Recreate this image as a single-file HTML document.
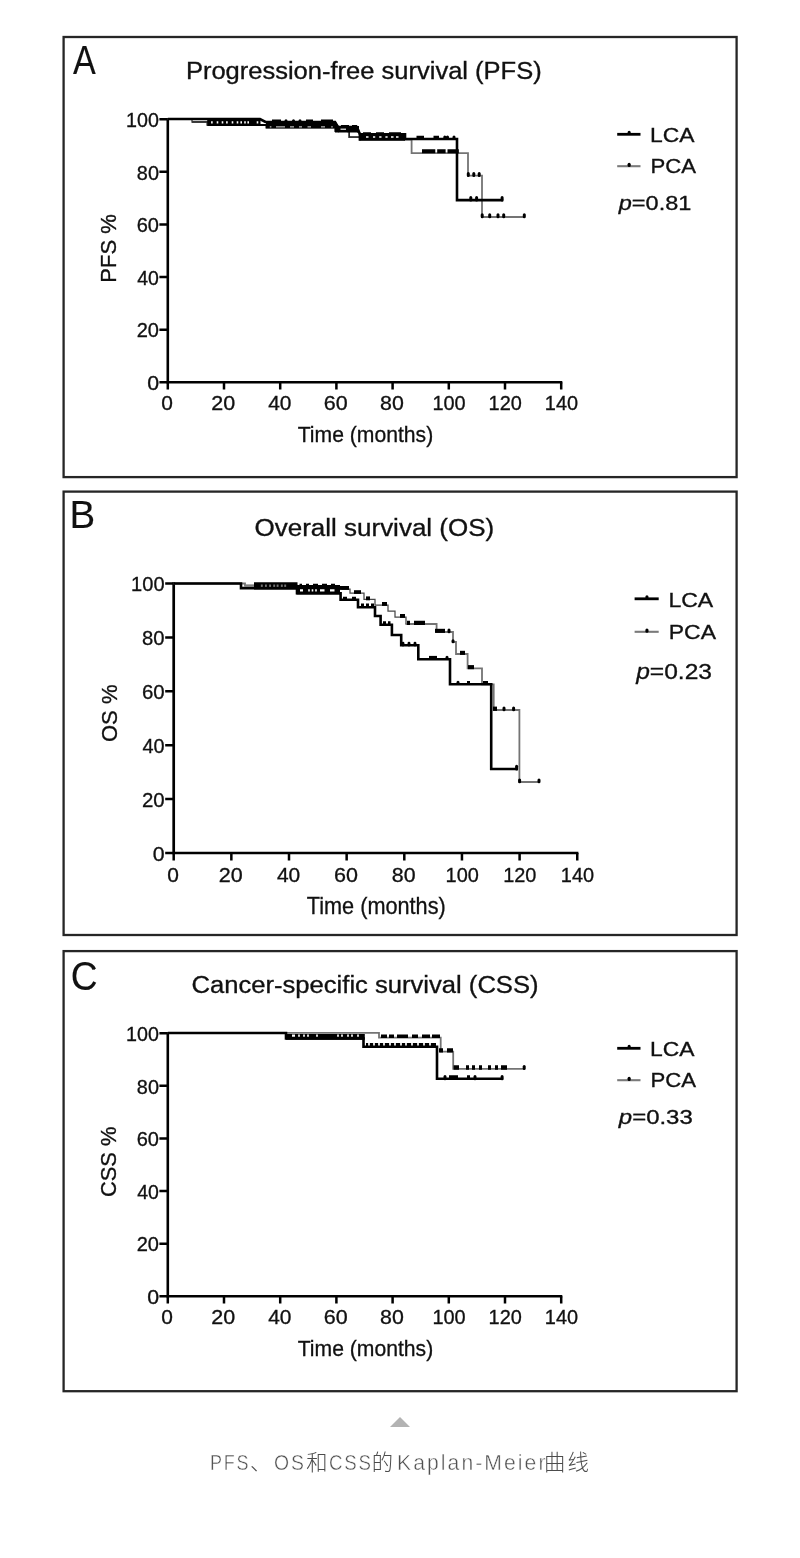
<!DOCTYPE html>
<html lang="zh-CN">
<head>
<meta charset="utf-8">
<title>PFS、OS和CSS的Kaplan-Meier曲线</title>
<style>
html,body{margin:0;padding:0;background:#fff;}
body{width:800px;height:1558px;position:relative;overflow:hidden;font-family:"Liberation Sans","Noto Sans CJK SC",sans-serif;}
svg.fig{position:absolute;left:0;top:0;width:800px;height:1400px;filter:blur(0.55px);}
svg.fig text{font-family:"Liberation Sans",sans-serif;stroke:#111;stroke-width:0.32px;}
svg.fig .pl text{stroke:#111;stroke-width:0.1px;}
.tri{position:absolute;left:390px;top:1417.2px;width:0;height:0;border-left:10px solid transparent;border-right:10px solid transparent;border-bottom:10.6px solid #b3b3b3;}
.cap{position:absolute;left:209.6px;top:1440px;height:46px;color:#4c4c4c;font-weight:300;font-size:21.33px;letter-spacing:2.13px;line-height:46px;white-space:nowrap;}
.cap .la{display:inline-block;font-size:22px;transform-origin:0 50%;color:#505050;-webkit-text-stroke:0.45px #fff;}
</style>
</head>
<body>
<svg class="fig" viewBox="0 0 800 1400" width="800" height="1400">
<g id="A">
<rect x="63.6" y="37" width="673.0" height="440.1" fill="none" stroke="#262626" stroke-width="2.3"/>
<g class="pl">
<text transform="translate(73.11,74.40) scale(0.8559,1)" font-size="39.85" fill="#111">A</text>
</g>
<text transform="translate(185.89,78.60) scale(1.0969,1)" font-size="23.27" fill="#111">Progression-free survival (PFS)</text>
<path d="M167.80,117.95 V383.55 M166.50,382.25 H562.30" stroke="#000" stroke-width="2.6" fill="none"/>
<path d="M159.40,382.25 H167.80 M159.40,329.65 H167.80 M159.40,277.05 H167.80 M159.40,224.45 H167.80 M159.40,171.85 H167.80 M159.40,119.25 H167.80 M167.80,382.25 V389.60 M224.00,382.25 V389.60 M280.20,382.25 V389.60 M336.40,382.25 V389.60 M392.60,382.25 V389.60 M448.80,382.25 V389.60 M505.00,382.25 V389.60 M561.20,382.25 V389.60 " stroke="#000" stroke-width="2.5" fill="none"/>
<text transform="translate(147.15,389.90) scale(1.0873,1)" font-size="19.65" fill="#111">0</text>
<text transform="translate(136.70,337.30) scale(1.0205,1)" font-size="19.65" fill="#111">20</text>
<text transform="translate(137.26,284.70) scale(0.9937,1)" font-size="19.65" fill="#111">40</text>
<text transform="translate(136.70,232.10) scale(1.0205,1)" font-size="19.65" fill="#111">60</text>
<text transform="translate(136.85,179.50) scale(1.0130,1)" font-size="19.65" fill="#111">80</text>
<text transform="translate(126.12,126.90) scale(1.0016,1)" font-size="19.65" fill="#111">100</text>
<text transform="translate(161.36,410.20) scale(1.0508,1)" font-size="19.93" fill="#111">0</text>
<text transform="translate(211.32,410.20) scale(1.0796,1)" font-size="19.93" fill="#111">20</text>
<text transform="translate(268.13,410.20) scale(1.0513,1)" font-size="19.93" fill="#111">40</text>
<text transform="translate(323.72,410.20) scale(1.0796,1)" font-size="19.93" fill="#111">60</text>
<text transform="translate(380.09,410.20) scale(1.0717,1)" font-size="19.93" fill="#111">80</text>
<text transform="translate(432.40,410.20) scale(1.0003,1)" font-size="19.93" fill="#111">100</text>
<text transform="translate(488.60,410.20) scale(1.0003,1)" font-size="19.93" fill="#111">120</text>
<text transform="translate(544.80,410.20) scale(1.0003,1)" font-size="19.93" fill="#111">140</text>
<text transform="translate(297.72,442.00) scale(0.9205,1)" font-size="22.98" fill="#111">Time (months)</text>
<text transform="translate(116.00,282.82) rotate(-90) scale(0.9997,1)" font-size="22.11" fill="#111">PFS %</text>
<path d="M617.2,134.3 H640.5" stroke="#000" stroke-width="2.8"/>
<path d="M617.2,166.2 H640.5" stroke="#7a7a7a" stroke-width="2.1"/>
<path d="M629.15,132.25V133.05" stroke="#000" stroke-width="3.10" stroke-linecap="round" fill="none"/>
<path d="M629.15,164.35V165.55" stroke="#000" stroke-width="3.10" stroke-linecap="round" fill="none"/>
<text transform="translate(650.01,142.10) scale(1.1465,1)" font-size="19.93" fill="#111">LCA</text>
<text transform="translate(650.47,173.20) scale(1.1117,1)" font-size="19.93" fill="#111">PCA</text>
<text transform="translate(618.79,210.30) scale(1.1982,1)" font-size="19.64" fill="#111"><tspan font-style="italic">p</tspan>=0.81</text>
<path d="M167.8,119 H192 V121.8 H207 V124.8 H266 V127.5 H335 V131.2 H349 V137 H361 V139.6 H411.6 V153.1 H468 V175.7 H482 V217 H525" stroke="#747474" stroke-width="1.8" fill="none" stroke-linejoin="miter"/>
<path d="M192,122 H208 M347,131.6 H349.3 V137.2 H361" stroke="#222" stroke-width="1.3" fill="none"/>
<path d="M167.8,119 H260 L265.5,122 H335 L337.5,127 H357 L360,134.4 H405 V139 H457 V200.1 H503.2" stroke="#000" stroke-width="2.6" fill="none" stroke-linejoin="miter" stroke-linecap="butt"/>
<path d="M207.20,119.00H260.50V126.00H207.20ZM211.10,121.30H212.70V123.60H211.10ZM216.70,121.30H218.30V123.60H216.70ZM221.70,121.30H223.30V123.60H221.70ZM226.10,121.30H227.70V123.60H226.10ZM231.70,121.30H233.30V123.60H231.70ZM236.70,121.30H238.30V123.60H236.70ZM240.40,121.30H242.00V123.60H240.40ZM244.20,121.30H245.80V123.60H244.20ZM247.40,121.30H249.00V123.60H247.40ZM256.70,121.30H258.30V123.60H256.70Z" fill="#000" fill-rule="evenodd"/>
<path d="M260,125 H266.5" stroke="#000" stroke-width="2" fill="none"/>
<path d="M272.00,119.60H281.00V122.00H272.00ZM306.00,119.60H313.00V122.00H306.00ZM321.00,119.60H333.00V122.00H321.00Z" fill="#000"/>
<path d="M286.00,120.90V120.80M293.50,120.90V120.80M300.00,120.90V120.80" stroke="#000" stroke-width="3.00" stroke-linecap="round" fill="none"/>
<path d="M266.00,121.00H335.50V128.60H266.00ZM269.80,126.20H271.40V127.80H269.80ZM276.00,126.20H285.00V127.80H276.00ZM290.00,126.20H294.00V127.80H290.00ZM299.00,126.20H302.00V127.80H299.00ZM307.50,126.20H311.00V127.80H307.50ZM321.00,126.20H325.00V127.80H321.00ZM331.20,126.20H332.80V127.80H331.20Z" fill="#000" fill-rule="evenodd"/>
<path d="M334,121 H335.5 L339,126 V132.6 H335 Z" fill="#000"/>
<path d="M338.50,126.00H359.00V132.60H338.50ZM340.50,128.50H346.00V129.70H340.50Z" fill="#000" fill-rule="evenodd"/>
<path d="M341.00,125.00H349.00V127.00H341.00ZM352.00,125.00H357.00V127.00H352.00Z" fill="#000"/>
<path d="M357,126 L360.5,133 V140.8 H358.6 V132.6 H357 Z" fill="#000"/>
<path d="M359.50,133.10H405.00V140.80H359.50ZM366.00,136.20H368.50V137.80H366.00ZM373.00,136.20H375.20V137.80H373.00ZM379.20,136.20H381.50V137.80H379.20ZM385.40,136.20H387.60V137.80H385.40ZM391.00,136.20H393.50V137.80H391.00ZM396.00,136.20H398.50V137.80H396.00Z" fill="#000" fill-rule="evenodd"/>
<path d="M363.00,132.20H371.00V134.40H363.00ZM376.00,132.20H384.00V134.40H376.00ZM389.00,132.20H401.00V134.40H389.00Z" fill="#000"/>
<path d="M416.50,135.80H424.00V139.00H416.50ZM433.50,135.80H439.00V139.00H433.50Z" fill="#000"/>
<path d="M444.80,137.10V137.80M447.50,137.10V137.80M454.00,137.10V137.80" stroke="#000" stroke-width="3.00" stroke-linecap="round" fill="none"/>
<path d="M422.00,149.20H435.30V153.30H422.00ZM437.20,149.20H445.60V153.30H437.20ZM447.50,149.20H458.80V153.30H447.50Z" fill="#000"/>
<path d="M468.30,173.60V175.40M473.80,173.60V175.40M479.20,173.60V175.40" stroke="#000" stroke-width="3.00" stroke-linecap="round" fill="none"/>
<path d="M470.80,197.60V200.10M476.60,197.60V200.10M502.10,197.60V200.10" stroke="#000" stroke-width="3.00" stroke-linecap="round" fill="none"/>
<path d="M482.20,214.70V216.70M489.70,214.70V216.70M498.00,214.70V216.70M503.70,214.70V216.70M524.30,214.70V216.70" stroke="#000" stroke-width="3.00" stroke-linecap="round" fill="none"/>
</g>
<g id="C">
<rect x="63.6" y="951.1" width="673.0" height="440.1" fill="none" stroke="#262626" stroke-width="2.3"/>
<g class="pl">
<text transform="translate(70.74,990.00) scale(0.9324,1)" font-size="39.86" fill="#111">C</text>
</g>
<text transform="translate(191.52,992.60) scale(1.1005,1)" font-size="23.27" fill="#111">Cancer-specific survival (CSS)</text>
<path d="M167.80,1031.95 V1297.55 M166.50,1296.25 H562.30" stroke="#000" stroke-width="2.6" fill="none"/>
<path d="M159.40,1296.25 H167.80 M159.40,1243.65 H167.80 M159.40,1191.05 H167.80 M159.40,1138.45 H167.80 M159.40,1085.85 H167.80 M159.40,1033.25 H167.80 M167.80,1296.25 V1303.60 M224.00,1296.25 V1303.60 M280.20,1296.25 V1303.60 M336.40,1296.25 V1303.60 M392.60,1296.25 V1303.60 M448.80,1296.25 V1303.60 M505.00,1296.25 V1303.60 M561.20,1296.25 V1303.60 " stroke="#000" stroke-width="2.5" fill="none"/>
<text transform="translate(147.15,1303.90) scale(1.0873,1)" font-size="19.65" fill="#111">0</text>
<text transform="translate(136.70,1251.30) scale(1.0205,1)" font-size="19.65" fill="#111">20</text>
<text transform="translate(137.26,1198.70) scale(0.9937,1)" font-size="19.65" fill="#111">40</text>
<text transform="translate(136.70,1146.10) scale(1.0205,1)" font-size="19.65" fill="#111">60</text>
<text transform="translate(136.85,1093.50) scale(1.0130,1)" font-size="19.65" fill="#111">80</text>
<text transform="translate(126.12,1040.90) scale(1.0016,1)" font-size="19.65" fill="#111">100</text>
<text transform="translate(161.36,1324.20) scale(1.0508,1)" font-size="19.93" fill="#111">0</text>
<text transform="translate(211.32,1324.20) scale(1.0796,1)" font-size="19.93" fill="#111">20</text>
<text transform="translate(268.13,1324.20) scale(1.0513,1)" font-size="19.93" fill="#111">40</text>
<text transform="translate(323.72,1324.20) scale(1.0796,1)" font-size="19.93" fill="#111">60</text>
<text transform="translate(380.09,1324.20) scale(1.0717,1)" font-size="19.93" fill="#111">80</text>
<text transform="translate(432.40,1324.20) scale(1.0003,1)" font-size="19.93" fill="#111">100</text>
<text transform="translate(488.60,1324.20) scale(1.0003,1)" font-size="19.93" fill="#111">120</text>
<text transform="translate(544.80,1324.20) scale(1.0003,1)" font-size="19.93" fill="#111">140</text>
<text transform="translate(297.72,1356.00) scale(0.9205,1)" font-size="22.98" fill="#111">Time (months)</text>
<text transform="translate(116.00,1197.10) rotate(-90) scale(0.9910,1)" font-size="22.11" fill="#111">CSS %</text>
<path d="M617.2,1048.3 H640.5" stroke="#000" stroke-width="2.8"/>
<path d="M617.2,1080.2 H640.5" stroke="#7a7a7a" stroke-width="2.1"/>
<path d="M629.15,1046.25V1047.05" stroke="#000" stroke-width="3.10" stroke-linecap="round" fill="none"/>
<path d="M629.15,1078.35V1079.55" stroke="#000" stroke-width="3.10" stroke-linecap="round" fill="none"/>
<text transform="translate(650.01,1056.10) scale(1.1465,1)" font-size="19.93" fill="#111">LCA</text>
<text transform="translate(650.47,1087.20) scale(1.1117,1)" font-size="19.93" fill="#111">PCA</text>
<text transform="translate(618.80,1124.30) scale(1.2211,1)" font-size="19.64" fill="#111"><tspan font-style="italic">p</tspan>=0.33</text>
<path d="M167.8,1032.8 H379 V1037.6 H440.7 V1051.6 H453.2 V1068.8 H525" stroke="#747474" stroke-width="1.8" fill="none" stroke-linejoin="miter"/>
<path d="M167.8,1033 H286 V1038.5 H363.5 V1046.8 H437 V1078.8 H503.2" stroke="#000" stroke-width="2.6" fill="none" stroke-linejoin="miter" stroke-linecap="butt"/>
<path d="M286.00,1034.00H364.80V1039.80H286.00ZM292.00,1034.50H295.00V1036.70H292.00ZM298.15,1034.50H299.85V1036.70H298.15ZM303.15,1034.50H304.85V1036.70H303.15ZM307.15,1034.50H308.85V1036.70H307.15ZM316.15,1034.50H317.85V1036.70H316.15ZM337.15,1034.50H338.85V1036.70H337.15ZM341.15,1034.50H342.85V1036.70H341.15ZM347.15,1034.50H348.85V1036.70H347.15ZM351.15,1034.50H352.85V1036.70H351.15ZM357.15,1034.50H358.85V1036.70H357.15Z" fill="#000" fill-rule="evenodd"/>
<path d="M381.00,1034.40H387.00V1037.90H381.00ZM389.00,1034.40H394.00V1037.90H389.00ZM397.00,1034.40H408.00V1037.90H397.00ZM412.00,1034.40H418.00V1037.90H412.00ZM422.00,1034.40H430.00V1037.90H422.00ZM432.00,1034.40H440.00V1037.90H432.00Z" fill="#000"/>
<path d="M366.00,1043.00H368.15V1047.70H366.00ZM369.85,1043.00H373.15V1047.70H369.85ZM374.85,1043.00H378.15V1047.70H374.85ZM379.85,1043.00H383.15V1047.70H379.85ZM384.85,1043.00H389.15V1047.70H384.85ZM390.85,1043.00H394.15V1047.70H390.85ZM395.85,1043.00H400.15V1047.70H395.85ZM401.85,1043.00H405.15V1047.70H401.85ZM406.85,1043.00H411.15V1047.70H406.85ZM412.85,1043.00H417.15V1047.70H412.85ZM418.85,1043.00H423.15V1047.70H418.85ZM424.85,1043.00H429.15V1047.70H424.85ZM430.85,1043.00H436.00V1047.70H430.85Z" fill="#000"/>
<path d="M439.00,1048.20H443.00V1052.50H439.00ZM447.00,1048.20H453.00V1052.50H447.00Z" fill="#000"/>
<path d="M453.60,1065.30H459.00V1069.70H453.60ZM466.00,1065.30H469.00V1069.70H466.00ZM472.00,1065.30H475.00V1069.70H472.00ZM479.00,1065.30H482.00V1069.70H479.00ZM488.00,1065.30H491.00V1069.70H488.00ZM495.00,1065.30H498.00V1069.70H495.00ZM501.00,1065.30H507.00V1069.70H501.00Z" fill="#000"/>
<path d="M524.20,1066.60V1068.50" stroke="#000" stroke-width="3.00" stroke-linecap="round" fill="none"/>
<path d="M449.00,1075.20H458.00V1080.00H449.00ZM467.00,1075.20H470.00V1080.00H467.00Z" fill="#000"/>
<path d="M445.00,1076.50V1078.80M475.00,1076.50V1078.80M502.10,1076.50V1078.80" stroke="#000" stroke-width="3.00" stroke-linecap="round" fill="none"/>
</g>
<g id="B">
<rect x="63.6" y="491.6" width="673.0" height="443.4" fill="none" stroke="#262626" stroke-width="2.3"/>
<g class="pl">
<text transform="translate(69.52,528.00) scale(1.0025,1)" font-size="38.40" fill="#111">B</text>
</g>
<text transform="translate(254.57,535.77) scale(1.1212,1)" font-size="23.18" fill="#111">Overall survival (OS)</text>
<path d="M173.70,582.15 V854.35 M172.35,853.00 H578.40" stroke="#000" stroke-width="2.7" fill="none"/>
<path d="M165.20,853.00 H173.70 M165.20,799.10 H173.70 M165.20,745.20 H173.70 M165.20,691.30 H173.70 M165.20,637.40 H173.70 M165.20,583.50 H173.70 M173.70,853.00 V860.60 M231.35,853.00 V860.60 M289.00,853.00 V860.60 M346.65,853.00 V860.60 M404.30,853.00 V860.60 M461.95,853.00 V860.60 M519.60,853.00 V860.60 M577.25,853.00 V860.60 " stroke="#000" stroke-width="2.5" fill="none"/>
<text transform="translate(152.75,860.95) scale(1.0569,1)" font-size="20.21" fill="#111">0</text>
<text transform="translate(141.88,807.05) scale(1.0113,1)" font-size="20.21" fill="#111">20</text>
<text transform="translate(142.45,753.15) scale(0.9848,1)" font-size="20.21" fill="#111">40</text>
<text transform="translate(141.88,699.25) scale(1.0113,1)" font-size="20.21" fill="#111">60</text>
<text transform="translate(142.04,645.35) scale(1.0039,1)" font-size="20.21" fill="#111">80</text>
<text transform="translate(131.10,591.45) scale(0.9927,1)" font-size="20.21" fill="#111">100</text>
<text transform="translate(167.26,881.50) scale(1.0218,1)" font-size="20.49" fill="#111">0</text>
<text transform="translate(218.67,881.50) scale(1.0498,1)" font-size="20.49" fill="#111">20</text>
<text transform="translate(276.93,881.50) scale(1.0223,1)" font-size="20.49" fill="#111">40</text>
<text transform="translate(333.97,881.50) scale(1.0498,1)" font-size="20.49" fill="#111">60</text>
<text transform="translate(391.79,881.50) scale(1.0422,1)" font-size="20.49" fill="#111">80</text>
<text transform="translate(445.55,881.50) scale(0.9727,1)" font-size="20.49" fill="#111">100</text>
<text transform="translate(503.20,881.50) scale(0.9727,1)" font-size="20.49" fill="#111">120</text>
<text transform="translate(560.85,881.50) scale(0.9727,1)" font-size="20.49" fill="#111">140</text>
<text transform="translate(306.81,914.00) scale(0.9093,1)" font-size="23.85" fill="#111">Time (months)</text>
<text transform="translate(116.80,742.05) rotate(-90) scale(0.9597,1)" font-size="22.98" fill="#111">OS %</text>
<path d="M634.6,598.8 H658.7" stroke="#000" stroke-width="2.8"/>
<path d="M634.6,631.8 H658.7" stroke="#7a7a7a" stroke-width="2.1"/>
<path d="M646.95,596.75V597.55" stroke="#000" stroke-width="3.10" stroke-linecap="round" fill="none"/>
<path d="M646.95,629.95V631.15" stroke="#000" stroke-width="3.10" stroke-linecap="round" fill="none"/>
<text transform="translate(668.40,606.69) scale(1.1101,1)" font-size="20.78" fill="#111">LCA</text>
<text transform="translate(668.81,639.00) scale(1.1284,1)" font-size="20.35" fill="#111">PCA</text>
<text transform="translate(636.21,678.70) scale(1.1350,1)" font-size="21.65" fill="#111"><tspan font-style="italic">p</tspan>=0.23</text>
<path d="M173.7,583.5 H245 V585.6 H297 V587.2 H342" stroke="#747474" stroke-width="1.8" fill="none" stroke-linejoin="miter"/>
<path d="M341,587.2 H342 V589 H350 V593 H364 V599.4 H375 V605 H388 V611 H395 V617 H406 V624" stroke="#484848" stroke-width="1.25" fill="none"/>
<path d="M405.4,624 H436.6 V632 H453 V642 H456 V654 H467.6 V668.3 H482 V684.3 H493.7 V710 H519.4 V782 H540" stroke="#747474" stroke-width="1.8" fill="none" stroke-linejoin="miter"/>
<path d="M173.7,583.5 H241 V588.1 H297 V593.2 H340.6 V599.7 H358 V607.2 H375 V616 H380.6 V624.7 H391.9 V635 H401.2 V645.3 H418.3 V659.3 H450 V684.3 H491.2 V769 H518" stroke="#000" stroke-width="2.6" fill="none" stroke-linejoin="miter" stroke-linecap="butt"/>
<path d="M245,585.7 H254.5" stroke="#808080" stroke-width="2.4"/>
<path d="M254.00,582.20H297.50V589.40H254.00ZM260.85,584.70H262.75V586.70H260.85ZM264.95,584.70H266.85V586.70H264.95ZM269.15,584.70H271.05V586.70H269.15ZM273.25,584.70H275.15V586.70H273.25ZM276.65,584.70H278.55V586.70H276.65ZM280.85,584.70H282.75V586.70H280.85ZM284.25,584.70H286.15V586.70H284.25Z" fill="#000" fill-rule="evenodd"/>
<path d="M296.50,585.00H340.00V594.50H296.50ZM300.00,589.30H303.00V591.40H300.00ZM308.20,589.30H309.80V591.40H308.20ZM311.70,589.30H313.30V591.40H311.70ZM315.20,589.30H316.80V591.40H315.20ZM320.00,589.30H324.50V591.40H320.00ZM330.00,589.30H334.50V591.40H330.00Z" fill="#000" fill-rule="evenodd"/>
<path d="M299.50,583.80H302.00V586.00H299.50ZM306.00,583.80H309.00V586.00H306.00ZM313.00,583.80H318.00V586.00H313.00ZM322.00,583.80H327.00V586.00H322.00ZM331.00,583.80H335.00V586.00H331.00Z" fill="#000"/>
<path d="M336.00,586.00H349.00V589.90H336.00Z" fill="#000"/>
<path d="M354.00,590.20H361.00V593.90H354.00Z" fill="#000"/>
<path d="M343.00,596.70H347.00V600.60H343.00ZM352.00,596.70H356.00V600.60H352.00Z" fill="#000"/>
<path d="M366.00,596.40H370.00V600.30H366.00Z" fill="#000"/>
<path d="M361.00,603.60H364.00V608.10H361.00ZM366.00,603.60H369.00V608.10H366.00ZM371.00,603.60H374.00V608.10H371.00Z" fill="#000"/>
<path d="M382.00,602.00H387.00V605.90H382.00Z" fill="#000"/>
<path d="M400.00,614.00H405.00V617.90H400.00Z" fill="#000"/>
<path d="M383.00,621.30H386.00V625.60H383.00ZM388.00,621.30H390.50V625.60H388.00Z" fill="#000"/>
<path d="M403.00,643.15V645.05M409.00,643.15V645.05M415.00,643.15V645.05" stroke="#000" stroke-width="2.90" stroke-linecap="round" fill="none"/>
<path d="M407.00,620.80H410.00V624.90H407.00ZM414.00,620.80H425.00V624.90H414.00Z" fill="#000"/>
<path d="M435.00,628.80H445.00V632.90H435.00Z" fill="#000"/>
<path d="M449.00,630.10V631.70" stroke="#000" stroke-width="3.00" stroke-linecap="round" fill="none"/>
<path d="M453.00,640.80V641.70" stroke="#000" stroke-width="3.00" stroke-linecap="round" fill="none"/>
<path d="M460.00,650.80H465.00V654.90H460.00Z" fill="#000"/>
<path d="M468.00,665.10H474.00V669.20H468.00Z" fill="#000"/>
<path d="M429.00,655.90H437.00V659.30H429.00Z" fill="#000"/>
<path d="M447.00,657.20V658.10" stroke="#000" stroke-width="3.00" stroke-linecap="round" fill="none"/>
<path d="M467.00,680.90H470.00V684.30H467.00ZM483.00,680.90H488.00V684.30H483.00Z" fill="#000"/>
<path d="M458.00,682.20V683.10" stroke="#000" stroke-width="3.00" stroke-linecap="round" fill="none"/>
<path d="M493.00,706.60H497.00V710.90H493.00Z" fill="#000"/>
<path d="M504.00,707.90V709.70M513.60,707.90V709.70" stroke="#000" stroke-width="3.00" stroke-linecap="round" fill="none"/>
<path d="M516.60,766.30V769.00" stroke="#000" stroke-width="3.00" stroke-linecap="round" fill="none"/>
<path d="M519.60,779.90V781.70M539.00,779.90V781.70" stroke="#000" stroke-width="3.00" stroke-linecap="round" fill="none"/>
</g>
</svg>
<div class="tri"></div>
<div class="cap"><span class="la" style="margin-left:0.72px;width:39.68px;transform:scaleX(0.8182)">PFS</span>、<span class="la" style="margin-left:0.82px;width:31.92px;transform:scaleX(0.8813)">OS</span>和<span class="la" style="margin-left:-0.39px;width:42.43px;transform:scaleX(0.8496)">CSS</span>的<span class="la" style="margin-left:1.99px;width:146.85px;transform:scaleX(0.9623)">Kaplan-Meier</span>曲线</div>
</body>
</html>
